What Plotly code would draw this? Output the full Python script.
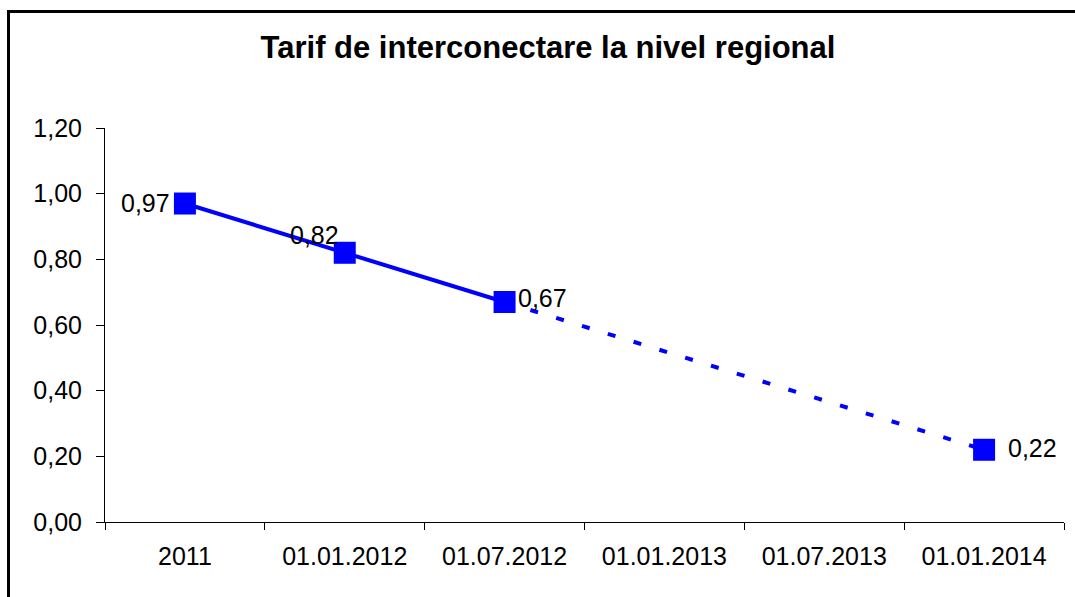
import plotly.graph_objects as go

categories = ["2011", "01.01.2012", "01.07.2012", "01.01.2013", "01.07.2013", "01.01.2014"]
solid_x = ["2011", "01.01.2012", "01.07.2012"]
solid_y = [0.97, 0.82, 0.67]
dash_x = ["01.07.2012", "01.01.2014"]
dash_y = [0.67, 0.22]
point_x = ["2011", "01.01.2012", "01.07.2012", "01.01.2014"]
point_y = [0.97, 0.82, 0.67, 0.22]
y_ticks = [0.0, 0.2, 0.4, 0.6, 0.8, 1.0, 1.2]
title_text = "Tarif de interconectare la nivel regional"

BLUE = "#0000FF"
FONT = "Liberation Sans, Arial, sans-serif"

def fmt(v):
    return f"{v:.2f}".replace(".", ",")

fig = go.Figure()
fig.add_trace(go.Scatter(x=dash_x, y=dash_y, mode="lines",
                         line=dict(color=BLUE, width=4, dash="8px,19px"),
                         hoverinfo="skip", showlegend=False))
fig.add_trace(go.Scatter(x=solid_x, y=solid_y, mode="lines",
                         line=dict(color=BLUE, width=4),
                         hoverinfo="skip", showlegend=False))
fig.add_trace(go.Scatter(x=point_x, y=point_y, mode="markers",
                         marker=dict(symbol="square", size=22, color=BLUE,
                                     line=dict(width=0)),
                         showlegend=False))

# data labels (offsets in pixels relative to the points)
label_offsets = [(-13, 1, "right"), (-4, 18, "right"), (11, 4, "left"), (22, 2, "left")]
for xv, yv, (dx, dy, anchor) in zip(point_x, point_y, label_offsets):
    fig.add_annotation(x=categories.index(xv), y=yv, text=fmt(yv), showarrow=False,
                       xanchor=anchor, yanchor="middle", xshift=dx, yshift=dy,
                       font=dict(family=FONT, size=25, color="black"))

W, H = 1075, 597
L, R, T, B = 105, 11, 128, 75
pw, ph = W - L - R, H - T - B

def px_to_paper_x(px):
    return (px - L) / pw

def px_to_paper_y(py):
    return (H - B - py) / ph

# outer frame (extends beyond right and bottom edges)
fig.add_shape(type="rect", xref="paper", yref="paper",
              x0=px_to_paper_x(8.5), x1=px_to_paper_x(1090),
              y0=px_to_paper_y(620), y1=px_to_paper_y(11.5),
              line=dict(color="black", width=3), fillcolor="rgba(0,0,0,0)",
              layer="below")

fig.update_layout(
    width=W, height=H,
    margin=dict(l=L, r=R, t=T, b=B),
    paper_bgcolor="white", plot_bgcolor="white",
    separators=", ",
    title=dict(text="<b>" + title_text + "</b>", x=(548) / W, xanchor="center",
               xref="container", yref="container", y=1 - 47 / H, yanchor="middle",
               font=dict(family=FONT, size=31, color="black")),
    xaxis=dict(type="category", categoryorder="array", categoryarray=categories,
               range=[-0.5, 5.5], showline=True, linecolor="black", linewidth=1,
               ticks="outside", tickson="boundaries", ticklen=7, tickcolor="black",
               tickwidth=1, showgrid=False, zeroline=False, ticklabelstandoff=12,
               tickfont=dict(family=FONT, size=25, color="black")),
    yaxis=dict(range=[0, 1.2], tickvals=y_ticks, tickformat=".2f",
               showline=True, linecolor="black", linewidth=1,
               ticks="outside", ticklen=8, tickcolor="black", tickwidth=1,
               showgrid=False, zeroline=False, ticklabelstandoff=9,
               tickfont=dict(family=FONT, size=25, color="black")),
)

fig.write_html("out.html", config={"displayModeBar": False},
               post_script="document.body.style.margin='0';document.body.style.overflow='hidden';")
